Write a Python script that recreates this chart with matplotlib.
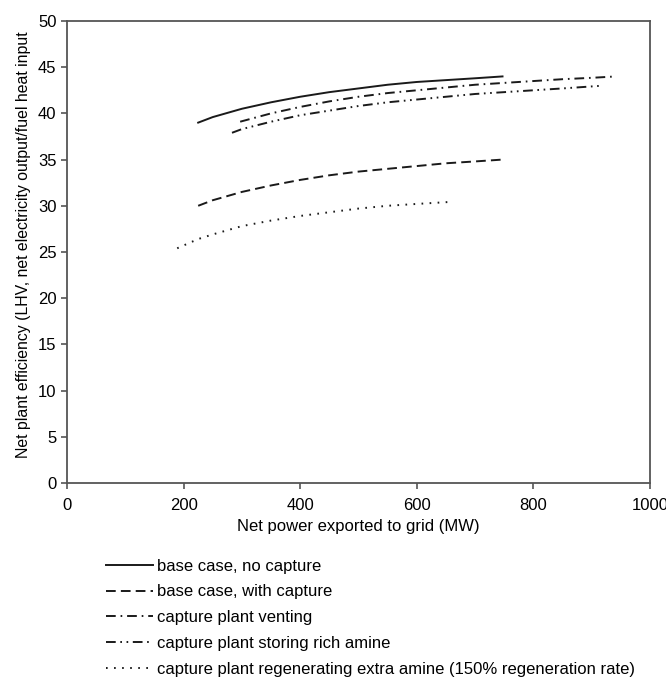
import matplotlib
matplotlib.use("Agg")
import matplotlib.pyplot as plt

plt.rcParams['font.family'] = ['Liberation Sans', 'DejaVu Sans']
plt.rcParams['lines.scale_dashes'] = False

# data
x_base = [225, 250, 300, 350, 400, 450, 500, 550, 600, 650, 700, 747]
y_base = [39.0, 39.6, 40.5, 41.2, 41.8, 42.3, 42.7, 43.1, 43.4, 43.6, 43.8, 44.0]

x_capt = [225, 250, 300, 350, 400, 450, 500, 550, 600, 650, 700, 747]
y_capt = [30.0, 30.6, 31.5, 32.2, 32.8, 33.3, 33.7, 34.0, 34.3, 34.6, 34.8, 35.0]

x_vent = [297, 350, 400, 450, 500, 550, 600, 650, 700, 750, 800, 850, 900, 942]
y_vent = [39.1, 40.0, 40.7, 41.3, 41.8, 42.2, 42.5, 42.8, 43.1, 43.3, 43.5, 43.7, 43.85, 44.0]

x_store = [283, 300, 350, 400, 450, 500, 550, 600, 650, 700, 750, 800, 850, 919]
y_store = [37.9, 38.3, 39.1, 39.8, 40.3, 40.8, 41.2, 41.5, 41.8, 42.1, 42.3, 42.5, 42.7, 43.0]

x_regen = [189, 225, 250, 300, 350, 400, 450, 500, 550, 600, 653]
y_regen = [25.4, 26.4, 26.9, 27.8, 28.4, 28.9, 29.3, 29.7, 30.0, 30.2, 30.4]

labels = ["base case, no capture",
          "base case, with capture",
          "capture plant venting",
          "capture plant storing rich amine",
          "capture plant regenerating extra amine (150% regeneration rate)"]

fig = plt.figure(figsize=(6.66, 6.77), dpi=100)
ax = fig.add_axes([0.1006, 0.2866, 0.8754, 0.6824])

col = "#1a1a1a"
lw = 1.4
ax.plot(x_base, y_base, color=col, lw=lw, label=labels[0])
ax.plot(x_capt, y_capt, color=col, lw=lw, dashes=(7, 3.7), label=labels[1])
ax.plot(x_vent, y_vent, color=col, lw=lw, dashes=(7, 3.5, 1.2, 3.5), label=labels[2])
ax.plot(x_store, y_store, color=col, lw=lw, dashes=(7, 3.3, 1.2, 3.3, 1.2, 3.3), label=labels[3])
ax.plot(x_regen, y_regen, color=col, lw=lw, dashes=(1.2, 4.6), label=labels[4])

ax.set_xlim(0, 1000)
ax.set_ylim(0, 50)
ax.set_xticks(range(0, 1001, 200))
ax.set_yticks(range(0, 51, 5))
ax.tick_params(labelsize=12, direction="out", length=4, color="#555555", width=1.2)
ax.tick_params(axis="x", pad=7)
for s in ax.spines.values():
    s.set_color("#555555")
    s.set_linewidth(1.3)

ax.set_xlabel("Net power exported to grid (MW)", fontsize=12, labelpad=4)
ax.set_ylabel("Net plant efficiency (LHV, net electricity output/fuel heat input",
              fontsize=11.4)
ax.yaxis.set_label_coords(-0.062, 0.515)

h, l = ax.get_legend_handles_labels()
fig.legend(h, l, loc="upper left", bbox_to_anchor=(0.159, 0.175), frameon=False,
           fontsize=12, handlelength=2.85, handletextpad=0.2, labelspacing=0.65,
           borderpad=0, borderaxespad=0)

fig.savefig("out.png", dpi=100)
